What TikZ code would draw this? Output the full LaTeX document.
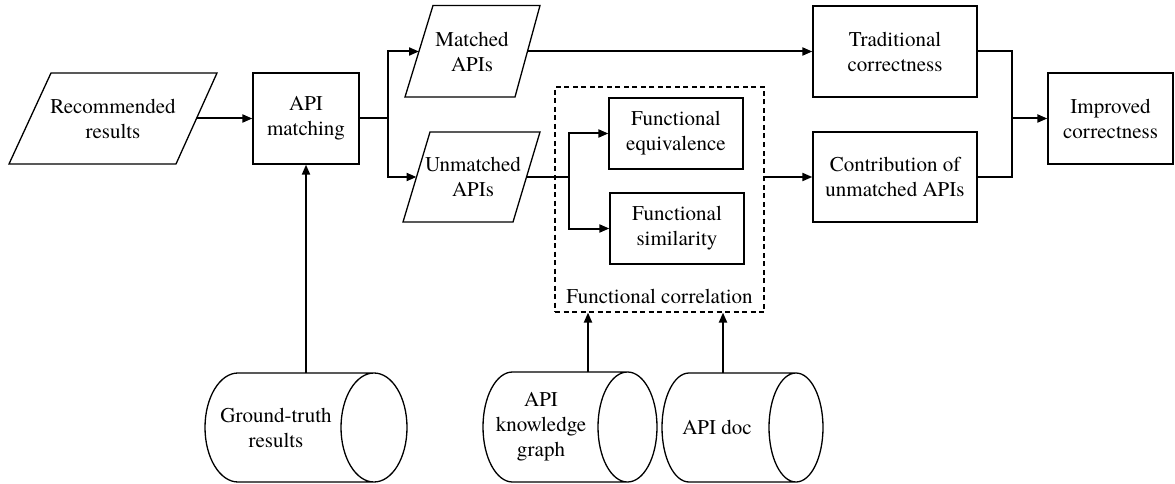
\documentclass[tikz,border=0pt]{standalone}
\usepackage{fontspec}
\setmainfont{texgyretermes-regular.otf}
\usetikzlibrary{arrows.meta}
\begin{document}
\begin{tikzpicture}[x=1pt,y=-1pt,
  txt/.style={align=center,font=\rmfamily\fontsize{21}{25}\selectfont,inner sep=0pt},
  box/.style={txt,draw,line width=1.3pt},
  shp/.style={line width=1.3pt,line join=miter},
  ln/.style={line width=2pt},
  arr/.style={line width=2pt,-{Triangle[length=10pt,width=8pt]}}]
\useasboundingbox (0,0) rectangle (1175,484);
% Recommended results
\draw[shp] (51,73) -- (217,73) -- (176,164) -- (9,164) -- cycle;
\node[txt] (rec) at (113,118.5) {Recommended\\results};
\coordinate (recR) at (196.5,118.5);
% API matching
\node[box,minimum width=106pt,minimum height=91pt] (api) at (306,118.5) {API\\matching};
\draw[arr] (recR) -- (api.west);
\coordinate (j1) at (388,118.5);
\draw[ln] (api.east) -- (j1);
% Matched APIs
\draw[shp] (433,5.5) -- (540,5.5) -- (515,97) -- (405,97) -- cycle;
\node[txt] (mat) at (472,51.5) {Matched\\APIs};
\coordinate (matL) at (419,51.5);
\coordinate (matR) at (527.5,51.5);
% Unmatched APIs
\draw[shp] (430,132) -- (540,132) -- (513,222) -- (403,222) -- cycle;
\node[txt] (unm) at (473,177) {Unmatched\\APIs};
\coordinate (unmL) at (416.5,177);
\coordinate (unmR) at (526.5,177);
\draw[arr] (j1) |- (matL);
\draw[arr] (j1) |- (unmL);
% Traditional correctness
\node[box,minimum width=164pt,minimum height=91pt] (trad) at (895,51.5) {Traditional\\correctness};
\draw[arr] (matR) -- (trad.west);
% Functional correlation
\node[draw,dashed,dash pattern=on 5pt off 3.5pt,line width=1.2pt,minimum width=209pt,minimum height=225pt,inner sep=0pt] (fc) at (659.5,199.5) {};
\node[txt] (fcl) at (659.5,296) {Functional correlation};
\node[box,minimum width=134pt,minimum height=71pt] (fe) at (676,133.5) {Functional\\equivalence};
\node[box,minimum width=134pt,minimum height=71pt] (fs) at (677,228.5) {Functional\\similarity};
\coordinate (j2) at (569,177);
\draw[ln] (unmR) -- (j2);
\draw[arr] (j2) |- (fe.west);
\draw[arr] (j2) |- (fs.west);
% Contribution
\node[box,minimum width=164pt,minimum height=90pt] (con) at (895,177) {Contribution of\\unmatched APIs};
\draw[arr] (fc.east |- con.west) -- (con.west);
% Improved
\node[box,minimum width=125pt,minimum height=91pt] (imp) at (1110.5,118.5) {Improved\\correctness};
\coordinate (j3) at (1012,118.5);
\draw[ln] (trad.east) -| (j3);
\draw[ln] (con.east) -| (j3);
\draw[arr] (j3) -- (imp.west);
% Ground-truth cylinder
\draw[shp] (238,373) -- (374,373) (238,482) -- (374,482)
  (374,427.5) ellipse [x radius=33pt, y radius=54.5pt]
  (238,373) arc[start angle=90, end angle=270, x radius=33pt, y radius=54.5pt];
\node[txt] (gt) at (276,427.5) {Ground-truth\\results};
\coordinate (gttop) at (306,373);
\draw[arr] (gttop) -- (api.south);
% API knowledge graph cylinder
\draw[shp] (512.5,372) -- (627.5,372) (512.5,482) -- (627.5,482)
  (627.5,427) ellipse [x radius=29.5pt, y radius=55pt]
  (512.5,372) arc[start angle=90, end angle=270, x radius=29.5pt, y radius=55pt];
\node[txt] (kg) at (541,427) {API\\knowledge\\graph};
\coordinate (kgtop) at (588,372);
\draw[arr] (kgtop) -- (kgtop |- fc.south);
% API doc cylinder
\draw[shp] (689,373) -- (796,373) (689,482) -- (796,482)
  (796,427.5) ellipse [x radius=27pt, y radius=54.5pt]
  (689,373) arc[start angle=90, end angle=270, x radius=27pt, y radius=54.5pt];
\node[txt] (doc) at (717,427.5) {API doc};
\coordinate (doctop) at (723,373);
\draw[arr] (doctop) -- (doctop |- fc.south);
\end{tikzpicture}
\end{document}
